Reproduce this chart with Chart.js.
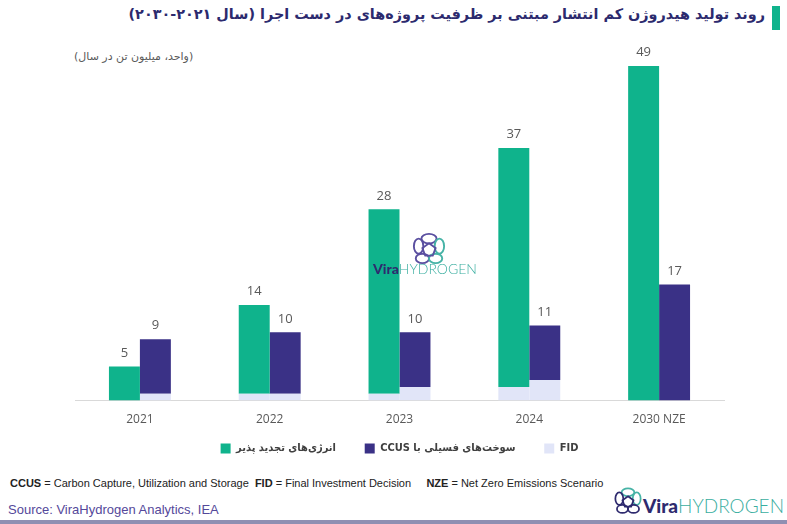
<!DOCTYPE html>
<html lang="fa">
<head>
<meta charset="UTF-8">
<title>روند تولید هیدروژن کم انتشار</title>
<style>
    body {
        margin: 0;
        padding: 0;
        background: #ffffff;
        width: 787px;
        height: 524px;
        overflow: hidden;
        position: relative;
        font-family: "DejaVu Sans", sans-serif;
    }
    .title {
        position: absolute;
        right: 22px;
        top: 6px;
        direction: rtl;
        font-size: 14.4px;
        font-weight: bold;
        color: #2c2a6e;
        white-space: nowrap;
    }
    .title-bar {
        position: absolute;
        left: 772px;
        top: 6px;
        width: 8px;
        height: 24px;
        background: #0fb38c;
    }
    .unit {
        position: absolute;
        left: 74px;
        top: 50px;
        direction: rtl;
        font-size: 11px;
        color: #595959;
        white-space: nowrap;
    }
    .chart-box {
        position: absolute;
        left: 0;
        top: 0;
        width: 787px;
        height: 464px;
    }
    .notes {
        position: absolute;
        left: 10px;
        top: 477px;
        font-family: "Liberation Sans Narrow", "Liberation Sans", sans-serif;
        font-size: 11px;
        color: #222;
        white-space: nowrap;
    }
    .notes b { font-weight: bold; }
    .source {
        position: absolute;
        left: 8px;
        top: 502px;
        font-family: "Liberation Sans Narrow", "Liberation Sans", sans-serif;
        font-size: 13px;
        color: #54489a;
        white-space: nowrap;
    }
    .bottom-line {
        position: absolute;
        left: 0;
        top: 520px;
        width: 787px;
        height: 4px;
        background: #8f8fb2;
    }
    .logo {
        position: absolute;
        white-space: nowrap;
    }
    .logo .vira { font-family: "Lato", sans-serif; font-weight: 900; color: #2e2a6e; }
    .logo .hyd { font-family: "Lato", sans-serif; font-weight: 300; color: #3aaea0; }
</style>
</head>
<body>
    <div class="title-bar"></div>
    <div class="title">روند تولید هیدروژن کم انتشار مبتنی بر ظرفیت پروژه‌های در دست اجرا (سال ۲۰۲۱-۲۰۳۰)</div>
    <div class="unit">(واحد، میلیون تن در سال)</div>

    <div class="chart-box"><canvas id="chart"></canvas></div>

    <!-- watermark -->
    <svg class="logo" style="left:411px; top:232px;" width="36" height="34" viewBox="0 0 38 36">
        <g fill="none" stroke-width="2">
            <ellipse cx="19" cy="7" rx="8" ry="5" stroke="#5a4fa0"/>
            <ellipse cx="8" cy="15" rx="5" ry="8" stroke="#5a4fa0"/>
            <ellipse cx="30" cy="15" rx="5" ry="8" stroke="#46b3a6"/>
            <ellipse cx="12" cy="28" rx="7" ry="5" stroke="#5a4fa0"/>
            <ellipse cx="26" cy="28" rx="7" ry="5" stroke="#46b3a6"/>
            <polygon points="19,12 26,17 23,25 15,25 12,17" stroke="#5a4fa0"/>
        </g>
    </svg>
    <div class="logo" style="left:373px; top:260px; font-size:14px;"><span class="vira">Vira</span><span class="hyd">HYDROGEN</span></div>

    <div class="notes"><b>CCUS</b> = Carbon Capture, Utilization and Storage&nbsp; <b>FID</b> = Final Investment Decision &nbsp;&nbsp;&nbsp; <b>NZE</b> = Net Zero Emissions Scenario</div>
    <div class="source">Source: ViraHydrogen Analytics, IEA</div>

    <svg class="logo" style="left:613px; top:486px;" width="30" height="30" viewBox="0 0 38 36">
        <g fill="none" stroke-width="2.2">
            <ellipse cx="19" cy="7" rx="8" ry="5" stroke="#46b3a6"/>
            <ellipse cx="8" cy="15" rx="5" ry="8" stroke="#2e2a6e"/>
            <ellipse cx="30" cy="15" rx="5" ry="8" stroke="#46b3a6"/>
            <ellipse cx="12" cy="28" rx="7" ry="5" stroke="#2e2a6e"/>
            <ellipse cx="26" cy="28" rx="7" ry="5" stroke="#2e2a6e"/>
            <polygon points="19,12 26,17 23,25 15,25 12,17" stroke="#2e2a6e"/>
        </g>
    </svg>
    <div class="logo" style="left:643px; top:494px; font-size:19px;"><span class="vira">Vira</span><span class="hyd">HYDROGEN</span></div>

    <div class="bottom-line"></div>

    <script src="https://cdn.jsdelivr.net/npm/chart.js"></script>
    <script>
        // داده‌ها (میلیون تن در سال)
        const categories = ['2021', '2022', '2023', '2024', '2030 NZE'];
        const renewTotal = [5, 14, 28, 37, 49];     // انرژی‌های تجدید پذیر
        const renewFid = [0, 1, 1, 2, 0];           // سهم FID در تجدید پذیر
        const ccusTotal = [9, 10, 10, 11, 17];      // سوخت‌های فسیلی با CCUS
        const ccusFid = [1, 1, 2, 3, 0];            // سهم FID در CCUS

        const legendNames = ['انرژی‌های تجدید پذیر', 'سوخت‌های فسیلی با CCUS', 'FID'];

        const GREEN = '#0fb38c';
        const PURPLE = '#3a3186';
        const LAVENDER = '#e1e5f8';

        // متن راست به چپ داخل بوم + فاصله اضافه بعد از آیتم
        const rtl = s => '\u202B' + s + '\u202C';
        const gap = '\u2002\u2002\u2002\u2002\u2002';

        // برچسب مقدار کل بالای هر ستون
        const totalLabels = {
            id: 'totalLabels',
            afterDatasetsDraw(chart) {
                const ctx = chart.ctx;
                ctx.save();
                ctx.font = '13px "Open Sans", sans-serif';
                ctx.fillStyle = '#595959';
                ctx.textAlign = 'center';
                ctx.textBaseline = 'bottom';
                [[1, renewTotal], [3, ccusTotal]].forEach(([di, totals]) => {
                    chart.getDatasetMeta(di).data.forEach((bar, i) => {
                        ctx.fillText(totals[i], bar.x, bar.y - 7);
                    });
                });
                ctx.restore();
            }
        };

        new Chart(document.getElementById('chart'), {
            type: 'bar',
            data: {
                labels: categories,
                datasets: [
                    { label: legendNames[2], data: renewFid, backgroundColor: LAVENDER, stack: 'renew' },
                    { label: rtl(legendNames[0]) + gap, data: renewTotal.map((v, i) => v - renewFid[i]), backgroundColor: GREEN, stack: 'renew' },
                    { label: legendNames[2], data: ccusFid, backgroundColor: LAVENDER, stack: 'ccus' },
                    { label: rtl(legendNames[1]) + gap, data: ccusTotal.map((v, i) => v - ccusFid[i]), backgroundColor: PURPLE, stack: 'ccus' }
                ]
            },
            options: {
                responsive: true,
                maintainAspectRatio: false,
                animation: false,
                layout: { padding: { left: 75, right: 63, top: 40, bottom: 0 } },
                datasets: {
                    bar: { barPercentage: 1, categoryPercentage: 0.477 }
                },
                scales: {
                    x: {
                        grid: { display: false, drawTicks: false },
                        border: { display: true, color: '#d9d9d9', width: 1 },
                        ticks: { color: '#595959', font: { size: 12, family: 'Open Sans' }, padding: 12 }
                    },
                    y: {
                        stacked: true,
                        min: 0,
                        max: 52.8,
                        display: false
                    }
                },
                plugins: {
                    tooltip: { enabled: false },
                    legend: {
                        position: 'bottom',
                        labels: {
                            boxWidth: 10,
                            boxHeight: 10,
                            padding: 4,
                            color: '#404040',
                            font: { size: 11, weight: 'bold', family: '"DejaVu Sans Condensed", "DejaVu Sans"' },
                            filter: item => item.datasetIndex !== 2,
                            sort: (a, b) => [2, 0, 3, 1][a.datasetIndex] - [2, 0, 3, 1][b.datasetIndex]
                        }
                    }
                }
            },
            plugins: [totalLabels]
        });
    </script>
</body>
</html>
